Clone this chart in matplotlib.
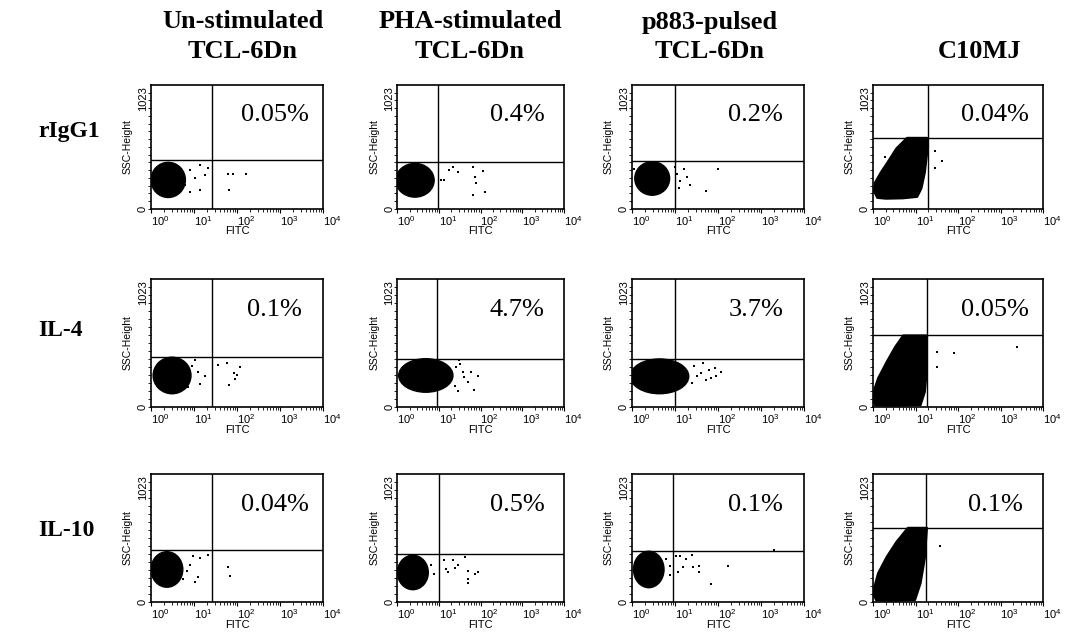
import numpy as np
import matplotlib.pyplot as plt
from matplotlib.patches import Ellipse, Polygon

plt.rcParams['font.family'] = ['Liberation Sans', 'DejaVu Sans']

# column / row titles
head_line1 = ['Un-stimulated', 'PHA-stimulated', 'p883-pulsed', '']
head_line2 = ['TCL-6Dn', 'TCL-6Dn', 'TCL-6Dn', 'C10MJ']
row_titles = ['rIgG1', 'IL-4', 'IL-10']
percents = [['0.05%', '0.4%', '0.2%', '0.04%'],
            ['0.1%', '4.7%', '3.7%', '0.05%'],
            ['0.04%', '0.5%', '0.1%', '0.1%']]

# quadrant gates: FITC in log decades, SSC in channels
gate_fitc = [[1.43, 0.98, 1.00, 1.29],
             [1.43, 0.97, 0.99, 1.26],
             [1.43, 1.00, 0.96, 1.25]]
gate_ssc = [[404, 385, 394, 587],
            [398, 386, 385, 572],
            [414, 386, 409, 593]]

# main cell cloud, columns 1-3 (centre / size, log decades and SSC)
blob_cx = [[0.40, 0.43, 0.47], [0.49, 0.69, 0.64], [0.37, 0.38, 0.39]]
blob_cy = [[240, 237, 252], [252, 252, 245], [260, 236, 260]]
blob_w = [[0.80, 0.92, 0.81], [0.88, 1.30, 1.36], [0.74, 0.74, 0.71]]
blob_h = [[290, 278, 277], [292, 268, 278], [284, 275, 291]]

# main cell cloud, C10MJ column (outline)
c10_fitc = [[0.10, 0.30, 0.70, 1.04, 1.14, 1.22, 1.27, 1.27, 0.80, 0.55, 0.35, 0.18, 0.05, 0.02],
            [0.05, 0.50, 1.12, 1.22, 1.27, 1.27, 0.71, 0.52, 0.32, 0.12, 0.03, 0.02],
            [0.08, 0.50, 0.99, 1.12, 1.22, 1.27, 0.82, 0.55, 0.32, 0.12, 0.03, 0.02]]
c10_ssc = [[92, 85, 88, 100, 170, 300, 450, 587, 587, 500, 390, 300, 220, 150],
           [12, 10, 15, 120, 300, 572, 572, 480, 360, 230, 140, 40],
           [12, 10, 16, 150, 350, 593, 593, 480, 360, 230, 120, 50]]

# scattered events
dot_fitc = [
    [[0.91, 1.02, 1.14, 1.26, 1.33, 0.79, 0.91, 1.14, 0.63, 1.79, 1.91, 2.21, 1.81],
     [1.06, 1.13, 1.25, 1.33, 1.45, 1.81, 1.86, 1.90, 2.07, 2.10, 1.81],
     [1.00, 1.05, 1.12, 1.20, 1.28, 1.35, 1.10, 2.00, 1.72, 0.05, 0.10],
     [1.46, 1.62, 1.46, 0.28]],
    [[0.95, 1.09, 1.25, 1.13, 1.02, 0.86, 0.67, 1.55, 1.76, 2.06, 1.92, 2.01, 1.96, 1.81],
     [1.47, 1.85, 1.94, 1.70, 1.58, 1.42, 1.78, 1.49, 1.61, 1.38, 1.52],
     [1.65, 1.79, 1.95, 1.84, 1.72, 1.60, 1.93, 1.45, 1.52, 1.40, 2.08],
     [1.50, 1.90, 1.50, 3.38]],
    [[0.97, 1.13, 1.32, 0.90, 1.09, 1.02, 0.83, 0.74, 1.80, 1.83],
     [0.81, 0.88, 1.12, 1.33, 1.45, 1.17, 1.21, 1.64, 1.71, 1.69, 1.88, 1.95, 1.69, 1.40],
     [0.80, 0.89, 1.03, 1.12, 1.26, 1.39, 1.19, 1.42, 1.55, 1.55, 1.07, 0.89, 2.24, 1.83, 3.31],
     [1.58]],
]
dot_ssc = [
    [[322, 256, 363, 280, 338, 198, 140, 157, 157, 289, 289, 289, 157],
     [240, 237, 319, 344, 303, 344, 262, 213, 311, 139, 115],
     [350, 290, 230, 330, 260, 200, 176, 327, 151, 330, 280],
     [478, 394, 335, 430]],
    [[325, 276, 244, 187, 374, 162, 130, 333, 349, 317, 268, 252, 227, 178],
     [126, 134, 244, 197, 283, 323, 276, 378, 236, 170, 340],
     [352, 295, 245, 229, 213, 270, 311, 330, 250, 190, 280],
     [443, 435, 322, 483]],
    [[366, 349, 374, 292, 203, 162, 244, 187, 276, 211],
     [299, 220, 338, 338, 299, 260, 236, 362, 244, 181, 220, 236, 150, 275],
     [346, 291, 370, 370, 346, 378, 283, 283, 291, 236, 236, 212, 291, 142, 417],
     [447]],
]

W, H = 1069, 634
fig = plt.figure(figsize=(W / 100, H / 100), dpi=100)

col_left = [151, 397, 632, 873]
col_width = [172, 167, 172, 170]
row_top = [85, 279, 474]
row_height = [124, 128, 128]

minor_x = [k + np.log10(m) for k in range(4) for m in range(2, 10)]

for r in range(3):
    for c in range(4):
        l, w = col_left[c], col_width[c]
        t, h = row_top[r], row_height[r]
        ax = fig.add_axes([l / W, (H - t - h) / H, w / W, h / H])
        ax.set_xlim(0, 4)
        ax.set_ylim(0, 1023)

        if c < 3:
            ax.add_patch(Ellipse((blob_cx[r][c], blob_cy[r][c]), blob_w[r][c], blob_h[r][c],
                                 facecolor='black', edgecolor='black', lw=1))
        else:
            ax.add_patch(Polygon(np.column_stack([c10_fitc[r], c10_ssc[r]]),
                                 closed=True, facecolor='black', edgecolor='black', lw=1.5,
                                 joinstyle='round'))
        ax.scatter(dot_fitc[r][c], dot_ssc[r][c], s=1.5, c='black', marker='s', lw=0)

        ax.axvline(gate_fitc[r][c], color='black', lw=1)
        ax.axhline(gate_ssc[r][c], color='black', lw=1)

        ax.set_xticks(range(5))
        ax.set_xticklabels([r'$\mathregular{10^{%d}}$' % k for k in range(5)], ha='left', fontsize=8)
        ax.set_xticks(minor_x, minor=True)
        ax.set_yticks([])
        ax.set_yticks(np.arange(0, 1024, 64), minor=True)
        ax.tick_params(axis='both', which='major', direction='out', length=3, width=0.8, pad=1)
        ax.tick_params(axis='both', which='minor', direction='out', length=2, width=0.6)
        for s in ax.spines.values():
            s.set_linewidth(1.2)

        ax.text(-0.047, 0.0, '0', rotation=90, transform=ax.transAxes,
                ha='center', va='center', fontsize=8)
        ax.text(-0.047, 0.99, '1023', rotation=90, transform=ax.transAxes,
                ha='center', va='top', fontsize=8)
        ax.text(-0.135, 0.5, 'SSC-Height', rotation=90, transform=ax.transAxes,
                ha='center', va='center', fontsize=7.5)
        ax.text(0.5, -0.18, 'FITC', transform=ax.transAxes, ha='center', va='center', fontsize=8)

        ax.text(0.72, 0.76, percents[r][c], transform=ax.transAxes, ha='center', va='center',
                fontsize=19, family='Liberation Serif')

head_x = [243, 470, 710, 980]
for c in range(4):
    fig.text(head_x[c] / W, 1 - 22 / H, head_line1[c], ha='center', va='center',
             fontsize=19, fontweight='bold', family='Liberation Serif')
    fig.text(head_x[c] / W, 1 - 52 / H, head_line2[c], ha='center', va='center',
             fontsize=19, fontweight='bold', family='Liberation Serif')

row_y = [132, 330, 530]
for r in range(3):
    fig.text(38 / W, 1 - row_y[r] / H, row_titles[r], ha='left', va='center',
             fontsize=17, fontweight='bold', family='Liberation Serif')

fig.savefig('out.png', dpi=100)
